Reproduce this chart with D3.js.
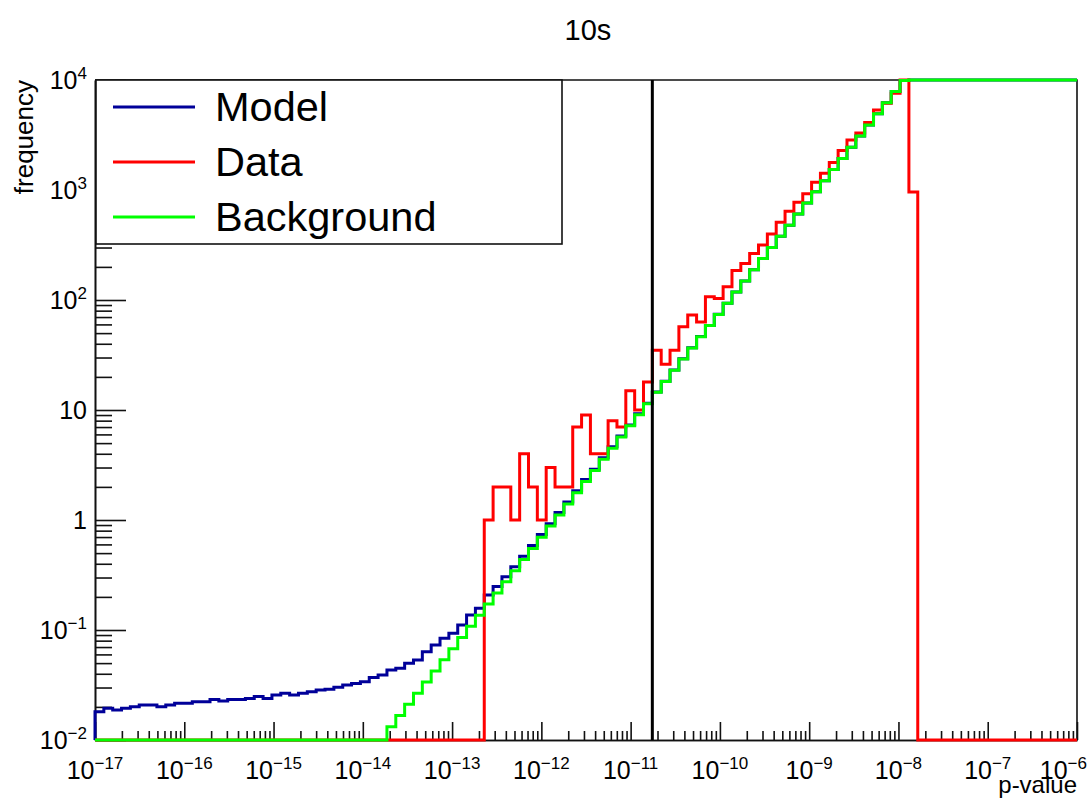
<!DOCTYPE html>
<html>
<head>
<meta charset="utf-8">
<script src="https://cdn.jsdelivr.net/npm/d3@7"></script>
<style>
body { margin: 0; background: #fff; }
svg { font-family: "Liberation Sans", Arial, Helvetica, sans-serif; }
</style>
</head>
<body>
<div></div>
<script>
// histogram definition
const title = "10s";
const xTitle = "p-value";
const yTitle = "frequency";
const xExp = [-17, -6];
const yExp = [-2, 4];
const nBins = 111;
const cutValue = 1.75e-11;

const seriesNames = ["Model", "Data", "Background"];
const seriesColors = ["#000099", "#ff0000", "#00ff00"];

// bin contents
const model = [
    0.0181, 0.0194, 0.0187, 0.0194, 0.0201, 0.0208, 0.0208, 0.0201, 0.0208, 0.0216,
    0.0216, 0.0223, 0.0223, 0.0234, 0.0226, 0.0234, 0.0234, 0.0239, 0.0248, 0.0239,
    0.0257, 0.0266, 0.0257, 0.0266, 0.0275, 0.0285, 0.0289, 0.0301, 0.0316, 0.0327,
    0.0339, 0.0370, 0.0390, 0.0433, 0.0449, 0.0498, 0.0534, 0.0635, 0.0731, 0.0841,
    0.0933, 0.111, 0.137, 0.158, 0.208, 0.248, 0.305, 0.376, 0.468, 0.585,
    0.739, 0.924, 1.17, 1.46, 1.84, 2.33, 2.90, 3.68, 4.64, 5.80,
    7.32, 9.24, 11.5, 14.6, 18.3, 23.1, 29.2, 36.8, 46.5, 58.7,
    74.1, 93.5, 118, 149, 188, 238, 300, 379, 478, 604,
    762, 962, 1216, 1535, 1938, 2447, 3090, 3900, 4925, 6220,
    7852, 9913, 12500, 15800, 19960, 25200, 31800, 40200, 50700, 64000,
    80900, 102000, 129000, 163000, 206000, 260000, 328000, 414000, 523000, 661000, 834000
];

const data = [
    0, 0, 0, 0, 0, 0, 0, 0, 0, 0,
    0, 0, 0, 0, 0, 0, 0, 0, 0, 0,
    0, 0, 0, 0, 0, 0, 0, 0, 0, 0,
    0, 0, 0, 0, 0, 0, 0, 0, 0, 0,
    0, 0, 0, 0, 1, 2, 2, 1, 4, 2,
    1, 3, 2, 2, 7, 9, 4, 4, 8, 7,
    15, 10, 18, 35, 26, 35, 57, 73, 63, 107,
    103, 132, 185, 215, 265, 316, 398, 510, 640, 775,
    925, 1175, 1418, 1780, 2290, 2850, 3300, 4100, 5340, 6140,
    7570, 10400, 960, 0, 0, 0, 0, 0, 0, 0,
    0, 0, 0, 0, 0, 0, 0, 0, 0, 0, 0
];

const background = [
    0, 0, 0, 0, 0, 0, 0, 0, 0, 0,
    0, 0, 0, 0, 0, 0, 0, 0, 0, 0,
    0, 0, 0, 0, 0, 0, 0, 0, 0, 0,
    0, 0, 0, 0.0132, 0.0167, 0.0211, 0.0266, 0.0336, 0.0425, 0.0536,
    0.0677, 0.0854, 0.108, 0.136, 0.172, 0.217, 0.274, 0.346, 0.437, 0.552,
    0.697, 0.880, 1.11, 1.40, 1.77, 2.24, 2.82, 3.57, 4.50, 5.69,
    7.18, 9.06, 11.4, 14.5, 18.2, 23.0, 29.1, 36.7, 46.4, 58.6,
    74.0, 93.4, 118, 149, 188, 238, 300, 379, 478, 604,
    762, 962, 1216, 1535, 1938, 2447, 3090, 3900, 4925, 6220,
    7852, 9913, 12500, 15800, 19960, 25200, 31800, 40200, 50700, 64000,
    80900, 102000, 129000, 163000, 206000, 260000, 328000, 414000, 523000, 661000, 834000
];

let dimension = {
    width: 1089,
    height: 800,
    margin: { top: 80, left: 95, right: 12, bottom: 60 }
};
const plotRight = dimension.width - dimension.margin.right;
const plotBottom = dimension.height - dimension.margin.bottom;

let svg = d3.select("div")
    .append("svg")
    .attr("width", dimension.width)
    .attr("height", dimension.height);

let X = d3.scaleLog()
    .domain([Math.pow(10, xExp[0]), Math.pow(10, xExp[1])])
    .range([dimension.margin.left, plotRight]);
let Y = d3.scaleLog()
    .domain([Math.pow(10, yExp[0]), Math.pow(10, yExp[1])])
    .range([plotBottom, dimension.margin.top])
    .clamp(true);

// log-uniform bin edges
let edges = d3.range(nBins + 1).map(k => Math.pow(10, xExp[0] + (xExp[1] - xExp[0]) * k / nBins));

function decadeTicks(exp) {
    let major = [], minor = [];
    for (let e = exp[0]; e <= exp[1]; e++) {
        major.push(Math.pow(10, e));
        if (e < exp[1]) d3.range(2, 10).forEach(m => minor.push(m * Math.pow(10, e)));
    }
    return { major, minor };
}
let xt = decadeTicks(xExp), yt = decadeTicks(yExp);

// axes (ticks point into the frame)
function styleAxis(g) {
    g.selectAll("path, line").attr("stroke", "#111").attr("stroke-width", 1.6);
    g.selectAll("text").remove();
}
svg.append("g").attr("transform", `translate(0,${plotBottom})`)
    .call(d3.axisBottom(X).tickValues(xt.minor).tickSizeInner(-9).tickSizeOuter(0).tickFormat(""))
    .call(styleAxis);
svg.append("g").attr("transform", `translate(0,${plotBottom})`)
    .call(d3.axisBottom(X).tickValues(xt.major).tickSizeInner(-18).tickSizeOuter(0).tickFormat(""))
    .call(styleAxis);
svg.append("g").attr("transform", `translate(${dimension.margin.left},0)`)
    .call(d3.axisLeft(Y).tickValues(yt.minor).tickSizeInner(-17).tickSizeOuter(0).tickFormat(""))
    .call(styleAxis);
svg.append("g").attr("transform", `translate(${dimension.margin.left},0)`)
    .call(d3.axisLeft(Y).tickValues(yt.major).tickSizeInner(-31).tickSizeOuter(0).tickFormat(""))
    .call(styleAxis);

// top and right frame
svg.append("path")
    .attr("d", `M${dimension.margin.left},${dimension.margin.top}H${plotRight}V${plotBottom}`)
    .attr("fill", "none").attr("stroke", "#111").attr("stroke-width", 1.6);

// tick labels like 10^-17
function powerLabel(sel, e) {
    if (e === 0) { sel.text("1"); return; }
    if (e === 1) { sel.text("10"); return; }
    sel.append("tspan").text("10");
    sel.append("tspan").attr("font-size", 17).attr("dy", -10)
        .text(String(e).replace("-", "\u2212"));
}
d3.range(xExp[0], xExp[1] + 1).forEach(e => {
    let t = svg.append("text")
        .attr("x", X(Math.pow(10, e)))
        .attr("y", plotBottom + 39)
        .attr("text-anchor", "middle")
        .attr("font-size", 25);
    powerLabel(t, e);
    let bb = t.node().getBBox();
    if (bb.x + bb.width > dimension.width - 2) t.attr("x", +t.attr("x") - (bb.x + bb.width - dimension.width + 2));
});
d3.range(yExp[0], yExp[1] + 1).forEach(e => {
    let t = svg.append("text")
        .attr("x", dimension.margin.left - 8)
        .attr("y", Y(Math.pow(10, e)) + 9)
        .attr("text-anchor", "end")
        .attr("font-size", 25);
    powerLabel(t, e);
});

// histograms
function yOf(v) { return v > 0 ? Y(v) : plotBottom; }
let line = d3.line()
    .x(d => X(d[0]))
    .y(d => d[1])
    .curve(d3.curveStepAfter);

function histPoints(values) {
    let pts = [[edges[0], plotBottom]];
    values.forEach((v, i) => pts.push([edges[i], yOf(v)]));
    pts.push([edges[nBins], yOf(values[nBins - 1])]);
    return pts;
}

[model, data, background].forEach((s, i) => {
    svg.append("path")
        .attr("d", line(histPoints(s)))
        .attr("fill", "none")
        .attr("stroke", seriesColors[i])
        .attr("stroke-width", 3);
});

// cut line
svg.append("line")
    .attr("x1", X(cutValue)).attr("x2", X(cutValue))
    .attr("y1", plotBottom).attr("y2", dimension.margin.top)
    .attr("stroke", "#000").attr("stroke-width", 3);

// legend
let legend = svg.append("g");
legend.append("rect")
    .attr("x", dimension.margin.left + 1).attr("y", dimension.margin.top)
    .attr("width", 466).attr("height", 164)
    .attr("fill", "#fff").attr("stroke", "#111").attr("stroke-width", 1.6);
seriesNames.forEach((name, i) => {
    let yy = 107 + i * 55;
    legend.append("line")
        .attr("x1", 113).attr("x2", 195).attr("y1", yy).attr("y2", yy)
        .attr("stroke", seriesColors[i]).attr("stroke-width", 3);
    legend.append("text")
        .attr("x", 215).attr("y", yy + 14)
        .attr("font-size", 41.5)
        .text(name);
});

// titles
svg.append("text")
    .attr("x", (dimension.margin.left + plotRight) / 2 + 2).attr("y", 40)
    .attr("text-anchor", "middle").attr("font-size", 29)
    .text(title);
svg.append("text")
    .attr("x", plotRight).attr("y", 793)
    .attr("text-anchor", "end").attr("font-size", 24)
    .text(xTitle);
svg.append("text")
    .attr("transform", `translate(33,${dimension.margin.top}) rotate(-90)`)
    .attr("text-anchor", "end").attr("font-size", 26)
    .text(yTitle);
</script>
</body>
</html>
